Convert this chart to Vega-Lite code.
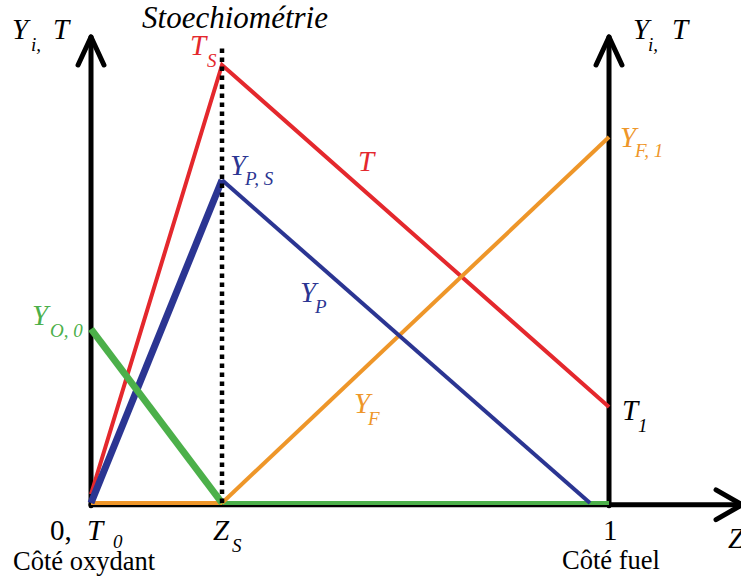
{
  "$schema": "https://vega.github.io/schema/vega-lite/v6.json",
  "width": 741,
  "height": 578,
  "autosize": "none",
  "padding": 0,
  "background": "white",
  "config": {"view": {"stroke": null}, "text": {"font": "Liberation Serif, Times New Roman, serif"}},
  "datasets": {
    "lines": [
      {"seg": "axisL", "style": "axis", "series": "black", "z": 0, "v": -0.006, "o": 1},
      {"seg": "axisL", "style": "axis", "series": "black", "z": 0, "v": 1.064, "o": 2},
      {"seg": "arrowL", "style": "axis", "series": "black", "z": -0.025, "v": 1.0, "o": 1},
      {"seg": "arrowL", "style": "axis", "series": "black", "z": 0, "v": 1.064, "o": 2},
      {"seg": "arrowL", "style": "axis", "series": "black", "z": 0.025, "v": 1.0, "o": 3},
      {"seg": "axisR", "style": "axis", "series": "black", "z": 1, "v": -0.006, "o": 1},
      {"seg": "axisR", "style": "axis", "series": "black", "z": 1, "v": 1.064, "o": 2},
      {"seg": "arrowR", "style": "axis", "series": "black", "z": 0.975, "v": 1.0, "o": 1},
      {"seg": "arrowR", "style": "axis", "series": "black", "z": 1, "v": 1.064, "o": 2},
      {"seg": "arrowR", "style": "axis", "series": "black", "z": 1.025, "v": 1.0, "o": 3},
      {"seg": "axisZ", "style": "axis", "series": "black", "z": 0, "v": -0.004, "o": 1},
      {"seg": "axisZ", "style": "axis", "series": "black", "z": 1.2568, "v": -0.004, "o": 2},
      {"seg": "arrowZ", "style": "axis", "series": "black", "z": 1.2066, "v": 0.03, "o": 1},
      {"seg": "arrowZ", "style": "axis", "series": "black", "z": 1.2568, "v": -0.004, "o": 2},
      {"seg": "arrowZ", "style": "axis", "series": "black", "z": 1.2066, "v": -0.038, "o": 3},
      {"seg": "a_YFbottom", "style": "thin", "series": "YF", "z": 0, "v": 0, "o": 1},
      {"seg": "a_YFbottom", "style": "thin", "series": "YF", "z": 0.2529, "v": 0, "o": 2},
      {"seg": "b_YObottom", "style": "thin", "series": "YO", "z": 0.2529, "v": 0, "o": 1},
      {"seg": "b_YObottom", "style": "thin", "series": "YO", "z": 1, "v": 0, "o": 2},
      {"seg": "c_T", "style": "thin", "series": "T", "z": 0, "v": 0.02, "o": 1},
      {"seg": "c_T", "style": "thin", "series": "T", "z": 0.2529, "v": 1.0, "o": 2},
      {"seg": "c_T", "style": "thin", "series": "T", "z": 1, "v": 0.2192, "o": 3},
      {"seg": "d_YF", "style": "thin", "series": "YF", "z": 0.2529, "v": 0, "o": 1},
      {"seg": "d_YF", "style": "thin", "series": "YF", "z": 1, "v": 0.8356, "o": 2},
      {"seg": "e_YP", "style": "thin", "series": "YP", "z": 0.2529, "v": 0.7374, "o": 1},
      {"seg": "e_YP", "style": "thin", "series": "YP", "z": 0.9633, "v": 0, "o": 2},
      {"seg": "f_YP", "style": "thick", "series": "YP", "z": 0, "v": 0, "o": 1},
      {"seg": "f_YP", "style": "thick", "series": "YP", "z": 0.2529, "v": 0.7374, "o": 2},
      {"seg": "g_YO", "style": "thick", "series": "YO", "z": 0, "v": 0.3973, "o": 1},
      {"seg": "g_YO", "style": "thick", "series": "YO", "z": 0.2529, "v": 0, "o": 2},
      {"seg": "stoech", "style": "dotted", "series": "black", "z": 0.2529, "v": 0.0, "o": 1},
      {"seg": "stoech", "style": "dotted", "series": "black", "z": 0.2529, "v": 1.0457, "o": 2}
    ],
    "labels": [
      {"t": "Y", "kind": "main", "series": "black", "z": -0.1525, "v": 1.0594},
      {"t": "i,", "kind": "sub", "series": "black", "z": -0.1158, "v": 1.032},
      {"t": "T", "kind": "main", "series": "black", "z": -0.0734, "v": 1.0594},
      {"t": "Y", "kind": "main", "series": "black", "z": 1.0463, "v": 1.0594},
      {"t": "i,", "kind": "sub", "series": "black", "z": 1.0753, "v": 1.032},
      {"t": "T", "kind": "main", "series": "black", "z": 1.1216, "v": 1.0594},
      {"t": "Stoechiométrie", "kind": "title", "series": "black", "z": 0.0985, "v": 1.0845},
      {"t": "0,", "kind": "upright", "series": "black", "z": -0.0792, "v": -0.0845},
      {"t": "T", "kind": "main", "series": "black", "z": -0.0077, "v": -0.0845},
      {"t": "0", "kind": "sub", "series": "black", "z": 0.0425, "v": -0.1027},
      {"t": "Z", "kind": "main", "series": "black", "z": 0.2355, "v": -0.0845},
      {"t": "S", "kind": "sub", "series": "black", "z": 0.2722, "v": -0.1119},
      {"t": "1", "kind": "upright", "series": "black", "z": 0.9884, "v": -0.0845},
      {"t": "Z", "kind": "main", "series": "black", "z": 1.2297, "v": -0.1027},
      {"t": "Côté oxydant", "kind": "note", "series": "black", "z": -0.1506, "v": -0.153},
      {"t": "Côté fuel", "kind": "note", "series": "black", "z": 0.9093, "v": -0.1507},
      {"t": "T", "kind": "main", "series": "black", "z": 1.0251, "v": 0.1895},
      {"t": "1", "kind": "sub", "series": "black", "z": 1.056, "v": 0.1621},
      {"t": "T", "kind": "main", "series": "T", "z": 0.1911, "v": 1.0228},
      {"t": "S", "kind": "sub", "series": "T", "z": 0.2239, "v": 0.9954},
      {"t": "T", "kind": "main", "series": "T", "z": 0.5154, "v": 0.758},
      {"t": "Y", "kind": "main", "series": "YP", "z": 0.2683, "v": 0.7489},
      {"t": "P, S", "kind": "sub", "series": "YP", "z": 0.2973, "v": 0.726},
      {"t": "Y", "kind": "main", "series": "YP", "z": 0.4035, "v": 0.4589},
      {"t": "P", "kind": "sub", "series": "YP", "z": 0.4324, "v": 0.4338},
      {"t": "Y", "kind": "main", "series": "YF", "z": 1.0212, "v": 0.8128},
      {"t": "F, 1", "kind": "sub", "series": "YF", "z": 1.0502, "v": 0.79},
      {"t": "Y", "kind": "main", "series": "YF", "z": 0.5077, "v": 0.2055},
      {"t": "F", "kind": "sub", "series": "YF", "z": 0.5347, "v": 0.1781},
      {"t": "Y", "kind": "main", "series": "YO", "z": -0.1139, "v": 0.4064},
      {"t": "O, 0", "kind": "sub", "series": "YO", "z": -0.0792, "v": 0.379}
    ]
  },
  "encoding": {
    "x": {"field": "z", "type": "quantitative", "axis": null, "scale": {"domain": [-0.1757, 1.2548], "nice": false, "zero": false}},
    "y": {"field": "v", "type": "quantitative", "axis": null, "scale": {"domain": [-0.1712, 1.1484], "nice": false, "zero": false}},
    "color": {"field": "series", "type": "nominal", "legend": null, "scale": {"domain": ["black", "T", "YP", "YO", "YF"], "range": ["#000000", "#e4282d", "#2b3592", "#4cb04a", "#ee9629"]}}
  },
  "layer": [
    {
      "data": {"name": "lines"},
      "transform": [{"filter": "datum.style == 'axis'"}],
      "mark": {"type": "line", "strokeWidth": 5, "strokeCap": "round", "strokeJoin": "round"},
      "encoding": {"detail": {"field": "seg"}, "order": {"field": "o"}}
    },
    {
      "data": {"name": "lines"},
      "transform": [{"filter": "datum.style == 'thin'"}],
      "mark": {"type": "line", "strokeWidth": 4, "strokeCap": "butt", "strokeJoin": "miter"},
      "encoding": {"detail": {"field": "seg"}, "order": {"field": "o"}}
    },
    {
      "data": {"name": "lines"},
      "transform": [{"filter": "datum.style == 'thick'"}],
      "mark": {"type": "line", "strokeWidth": 7, "strokeCap": "butt"},
      "encoding": {"detail": {"field": "seg"}, "order": {"field": "o"}}
    },
    {
      "data": {"name": "lines"},
      "transform": [{"filter": "datum.style == 'dotted'"}],
      "mark": {"type": "line", "strokeWidth": 4.5, "strokeDash": [4.5, 4.5], "strokeCap": "butt"},
      "encoding": {"detail": {"field": "seg"}, "order": {"field": "o"}}
    },
    {
      "data": {"name": "labels"},
      "transform": [{"filter": "datum.kind == 'main'"}],
      "mark": {"type": "text", "fontStyle": "italic", "fontSize": 29, "align": "left", "baseline": "alphabetic"},
      "encoding": {"text": {"field": "t"}}
    },
    {
      "data": {"name": "labels"},
      "transform": [{"filter": "datum.kind == 'title'"}],
      "mark": {"type": "text", "fontStyle": "italic", "fontSize": 31, "align": "left", "baseline": "alphabetic"},
      "encoding": {"text": {"field": "t"}}
    },
    {
      "data": {"name": "labels"},
      "transform": [{"filter": "datum.kind == 'sub'"}],
      "mark": {"type": "text", "fontStyle": "italic", "fontSize": 19, "align": "left", "baseline": "alphabetic"},
      "encoding": {"text": {"field": "t"}}
    },
    {
      "data": {"name": "labels"},
      "transform": [{"filter": "datum.kind == 'upright'"}],
      "mark": {"type": "text", "fontSize": 29, "align": "left", "baseline": "alphabetic"},
      "encoding": {"text": {"field": "t"}}
    },
    {
      "data": {"name": "labels"},
      "transform": [{"filter": "datum.kind == 'note'"}],
      "mark": {"type": "text", "fontSize": 26.5, "align": "left", "baseline": "alphabetic"},
      "encoding": {"text": {"field": "t"}}
    }
  ]
}
